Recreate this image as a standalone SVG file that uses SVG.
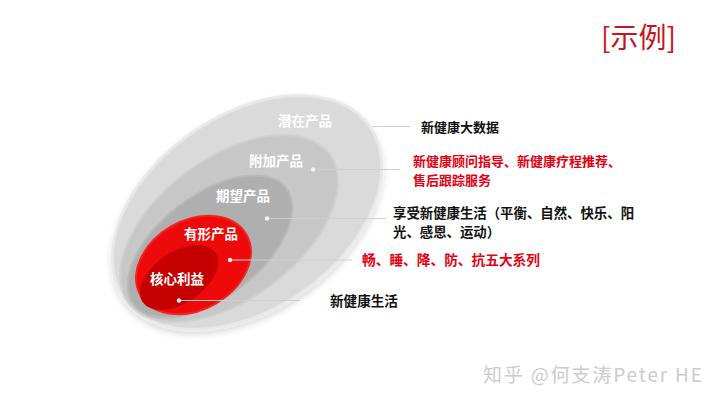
<svg xmlns="http://www.w3.org/2000/svg" width="720" height="405" viewBox="0 0 720 405">
<style>
.lbl{font-family:"Noto Sans CJK SC","Noto Sans",sans-serif;font-weight:700;font-size:13.5px;fill:#ffffff;text-anchor:middle}
.txt{font-family:"Noto Sans CJK SC","Noto Sans",sans-serif;font-weight:700;font-size:13px;fill:#111111}
.red{fill:#e60012}
.ln{stroke:#cfcfcf;stroke-width:1.2;fill:none}
.dot{fill:#f2f2f2}
</style>
<defs>
<filter id="sh" x="-20%" y="-20%" width="140%" height="140%">
<feDropShadow dx="-2" dy="3" stdDeviation="3" flood-color="#000" flood-opacity="0.15"/>
</filter>
</defs>
<rect width="720" height="405" fill="#ffffff"/>
<text x="601" y="48" font-family="'Noto Sans CJK SC','Noto Sans',sans-serif" font-size="28" fill="#c8141e">[示例]</text>

<g id="node-qianzai">
<ellipse cx="247" cy="212.5" rx="150" ry="97" transform="rotate(-35 247 212.5)" fill="#dadada" stroke="#e9e9e9" stroke-width="3" filter="url(#sh)"/>
<text class="lbl" x="305" y="126">潜在产品</text>
</g>
<g id="node-fujia">
<ellipse cx="229" cy="228.5" rx="125" ry="70.5" transform="rotate(-36.5 229 228.5)" fill="#c7c7c7" stroke="#d0d0d0" stroke-width="2"/>
<text class="lbl" x="276" y="166">附加产品</text>
</g>
<g id="node-qiwang">
<ellipse cx="210" cy="246.5" rx="96" ry="51" transform="rotate(-37.5 210 246.5)" fill="#afafaf" stroke="#b9b9b9" stroke-width="2"/>
<text class="lbl" x="243" y="201">期望产品</text>
</g>
<g id="node-youxing">
<ellipse cx="193.5" cy="265" rx="61" ry="44.5" transform="rotate(-30 193.5 265)" fill="#ee0a0a" stroke="#f52020" stroke-width="2"/>
<text class="lbl" x="211" y="239">有形产品</text>
</g>
<g id="node-hexin">
<ellipse cx="179" cy="277.5" rx="44" ry="25.5" transform="rotate(-34 179 277.5)" fill="#c40000"/>
<text class="lbl" x="177" y="284">核心利益</text>
</g>

<g id="connectors">
<line class="ln" x1="372" y1="126.5" x2="410" y2="126.5"/>
<line class="ln" x1="313" y1="169.5" x2="400" y2="169.5"/>
<line class="ln" x1="267" y1="218.5" x2="386" y2="218.5"/>
<line class="ln" x1="230" y1="260" x2="352" y2="260"/>
<line class="ln" x1="179" y1="300.5" x2="300" y2="300.5"/>
<circle class="dot" cx="313" cy="169.5" r="2.2"/>
<circle class="dot" cx="267" cy="218.5" r="2.2"/>
<circle class="dot" cx="230" cy="260" r="2.2"/>
<circle class="dot" cx="179" cy="300.5" r="2.2"/>
</g>

<g id="labels">
<text class="txt" x="421" y="132" font-size="13.3">新健康大数据</text>
<text class="txt red" x="413" y="166">新健康顾问指导、新健康疗程推荐、</text>
<text class="txt red" x="413" y="185">售后跟踪服务</text>
<text class="txt" x="393" y="218" style="font-size:13.4px">享受新健康生活（平衡、自然、快乐、阳</text>
<text class="txt" x="393" y="237" style="font-size:13.4px">光、感恩、运动）</text>
<text class="txt red" x="362" y="265" style="font-size:13.7px">畅、睡、降、防、抗五大系列</text>
<text class="txt" x="330" y="306" style="font-size:13.6px">新健康生活</text>
</g>
<text x="483" y="382" font-family="'Noto Sans CJK SC','Noto Sans',sans-serif" font-size="19" fill="#cccccc" textLength="219">知乎 @何支涛Peter HE</text>
</svg>
